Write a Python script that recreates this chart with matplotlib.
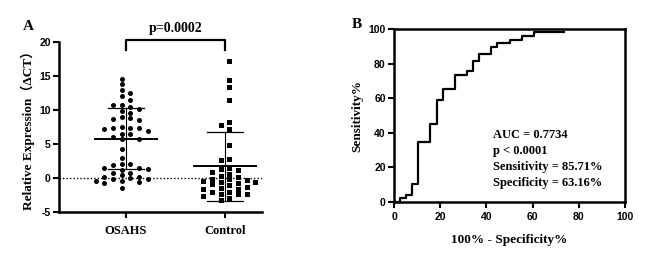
import numpy as np
import matplotlib
matplotlib.use("Agg")
import matplotlib.pyplot as plt

# ---- panel A data (relative expression, dCT)
osahs = [14.6, 13.8, 12.9, 12.5, 12.0, 11.4, 10.8, 10.7, 10.5, 10.2, 9.8, 9.6,
         8.9, 8.8, 8.7, 8.6, 7.5, 7.4, 7.3, 7.3, 7.2, 6.9, 6.5, 6.4, 6.0, 5.8,
         5.7, 4.3, 3.0, 2.0, 2.0, 1.9, 1.5, 1.4, 1.3, 1.2, 0.8, 0.7, 0.4, 0.2,
         0.1, 0.0, -0.1, -0.2, -0.4, -0.5, -0.6, -0.7, -1.4]
control = [17.2, 14.4, 13.4, 11.4, 8.2, 7.8, 7.2, 4.9, 2.8, 2.7, 1.4, 1.3, 1.2,
           0.9, 0.6, 0.3, 0.1, -0.1, -0.2, -0.3, -0.4, -0.6, -0.6, -0.7, -0.9,
           -1.1, -1.3, -1.5, -1.6, -1.6, -2.1, -2.1, -2.4, -2.4, -2.4, -2.7,
           -2.9, -3.3]
groups = ["OSAHS", "Control"]
means = [5.8, 1.7]
sds = [4.5, 5.1]
p_text = "p=0.0002"
a_yticks = [-5, 0, 5, 10, 15, 20]

# ---- panel B ROC curve (percent)
fpr = [0, 2.63, 5.26, 7.89, 10.53, 15.79, 18.42, 21.05, 26.32, 31.58, 34.21,
       36.84, 42.11, 44.74, 50.0, 55.26, 60.53, 73.68]
tpr = [0, 2.04, 4.08, 10.2, 34.7, 44.9, 59.2, 65.3, 73.5, 75.5, 81.6, 85.7,
       89.8, 91.8, 93.9, 95.9, 98.0, 98.0]
b_ticks = [0, 20, 40, 60, 80, 100]
roc_lines = ["AUC = 0.7734", "p < 0.0001", "Sensitivity = 85.71%",
             "Specificity = 63.16%"]

serif = ["Liberation Serif", "Noto Sans CJK SC", "DejaVu Sans"]
sans = "Liberation Sans"
tickfont = dict(fontsize=7.5, fontweight="bold", family=sans)


def swarm(vals, step, ythr, first):
    # prism-like column layout: half-step offsets, nearest free slot
    placed = []
    xs = np.zeros(len(vals))
    order = np.argsort(vals)[::-1]
    cands = []
    for k in range(8):
        cands += [first * (k + 0.5), -first * (k + 0.5)]
    for i in order:
        v = vals[i]
        for c in cands:
            if all(not (abs(c - pc) < 1e-6 and abs(v - pv) < ythr) for pc, pv in placed):
                xs[i] = c * step
                placed.append((c, v))
                break
    return xs


fig = plt.figure(figsize=(6.69, 2.65), dpi=100)

# ---------------- panel A
ax = fig.add_axes([59 / 669, 53 / 265, 203 / 669, 170 / 265])
ax.set_xlim(-0.677, 1.374)
ax.set_ylim(-5, 20)
step = 0.088
for gi, (vals, mk, ms, first) in enumerate([(osahs, "o", 3.6, -1), (control, "s", 3.6, 1)]):
    vals = np.array(vals)
    xs = swarm(vals, step, 0.78, first) + gi
    ax.plot(xs, vals, mk, color="black", ms=ms, mew=0, ls="none", zorder=3)
    m, s = means[gi], sds[gi]
    ax.plot([gi - 0.31, gi + 0.31], [m, m], color="black", lw=1.4, zorder=4)
    ax.plot([gi, gi], [m - s, m + s], color="black", lw=0.8, zorder=4)
    for yy in (m - s, m + s):
        ax.plot([gi - 0.18, gi + 0.18], [yy, yy], color="black", lw=0.9, zorder=4)

ax.axhline(0, color="black", lw=1.0, ls=(0, (1, 1.5)), zorder=2)

# significance bracket
ax.plot([0, 0, 1, 1], [18.8, 20.3, 20.3, 18.8], color="black", lw=1.6, clip_on=False)
ax.text(0.5, 21.0, p_text, ha="center", va="bottom", fontsize=10,
        fontweight="bold", family=serif)

for sp in ["top", "right"]:
    ax.spines[sp].set_visible(False)
for sp in ["left", "bottom"]:
    ax.spines[sp].set_linewidth(1.8)
ax.set_yticks(a_yticks, [str(t) for t in a_yticks], **tickfont)
ax.set_xticks([0, 1], groups, fontsize=9, fontweight="bold", family=serif)
ax.tick_params(width=1.5, length=4.5, pad=1.5)
ax.tick_params(axis="x", pad=5)
ax.set_ylabel("Relative Expression（ΔCT）", fontsize=9.5, fontweight="bold",
              family=serif, labelpad=3)
fig.text(28 / 669, 1 - 26 / 265, "A", fontsize=11, fontweight="bold",
         family=serif, ha="center", va="center")

# ---------------- panel B
bx = fig.add_axes([394 / 669, 63 / 265, 231 / 669, 173 / 265])
bx.step(fpr, tpr, where="post", color="black", lw=1.6, clip_on=False, zorder=3)
bx.set_xlim(0, 100)
bx.set_ylim(0, 100)
bx.set_xticks(b_ticks, [str(t) for t in b_ticks], **tickfont)
bx.set_yticks(b_ticks, [str(t) for t in b_ticks], **tickfont)
for sp in bx.spines.values():
    sp.set_linewidth(1.8)
bx.tick_params(width=1.5, length=4, pad=2)
bx.tick_params(axis="x", pad=3.5)
bx.set_xlabel("100% - Specificity%", fontsize=9.5, fontweight="bold",
              family=serif, labelpad=8)
bx.set_ylabel("Sensitivity%", fontsize=9.5, fontweight="bold", family=serif,
              labelpad=4)
for i, t in enumerate(roc_lines):
    bx.text(0.43, 0.39 - i * 0.0925, t, transform=bx.transAxes, fontsize=9,
            fontweight="bold", family=serif, va="center", ha="left")
fig.text(357 / 669, 1 - 25 / 265, "B", fontsize=11, fontweight="bold",
         family=serif, ha="center", va="center")

fig.savefig("out.png", dpi=100)
